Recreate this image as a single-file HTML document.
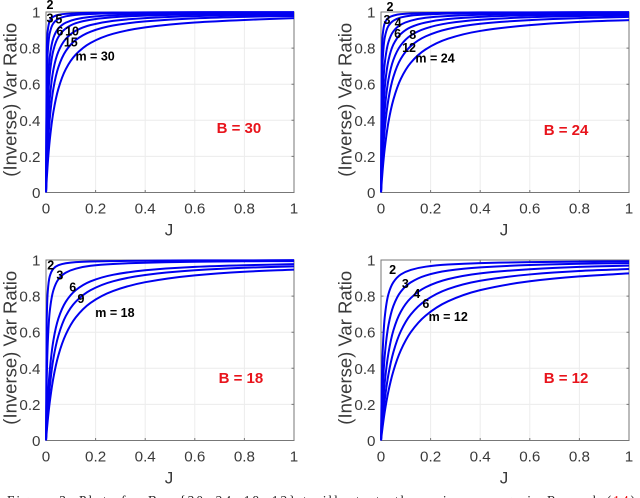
<!DOCTYPE html>
<html>
<head>
<meta charset="utf-8">
<style>
html,body{margin:0;padding:0;background:#fff;}
body{width:640px;height:498px;overflow:hidden;position:relative;}
svg{position:absolute;left:0;top:0;}
text{font-family:"Liberation Sans",sans-serif;}
</style>
</head>
<body>
<svg id="fig" width="640" height="498" viewBox="0 0 640 498">
<text x="7" y="505" font-size="13.4" textLength="628" lengthAdjust="spacing" fill="#222" style="font-family:'Liberation Serif',serif">Figure 3: Plots for B = {30, 24, 18, 12} to illustrate the main message in Remark (<tspan fill="#e00">14</tspan>)</text>
</svg>
<script>
const sampleJ = [0,.003,.007,.015,.03,.05,.08,.12,.18,.27,.4,.6,.8,1];
const xTicks = [0,.2,.4,.6,.8,1];
const yTicks = [0,.2,.4,.6,.8,1];
const tickText = ['0','0.2','0.4','0.6','0.8','1'];

const b30m2  = [0,.789,.897,.949,.974,.984,.990,.993,.996,.997,.998,.999,.999,.999];
const b30m3  = [0,.600,.778,.882,.938,.962,.976,.984,.989,.993,.995,.997,.998,.998];
const b30m5  = [0,.375,.583,.750,.857,.909,.941,.960,.973,.982,.988,.992,.994,.995];
const b30m6  = [0,.273,.467,.652,.789,.862,.909,.938,.957,.971,.980,.987,.990,.992];
const b30m10 = [0,.176,.333,.517,.682,.781,.851,.896,.928,.951,.966,.977,.983,.986];
const b30m15 = [0,.120,.241,.405,.577,.694,.784,.845,.891,.925,.948,.965,.973,.978];
const b30m30 = [0,.075,.159,.288,.448,.575,.684,.764,.829,.879,.915,.942,.956,.966];

const b24m2  = [0,.750,.875,.938,.968,.980,.988,.992,.994,.996,.998,.998,.999,.999];
const b24m3  = [0,.545,.737,.857,.923,.952,.970,.980,.986,.991,.994,.996,.997,.998];
const b24m4  = [0,.333,.538,.714,.833,.893,.930,.952,.968,.978,.985,.990,.993,.994];
const b24m6  = [0,.214,.389,.577,.732,.820,.879,.916,.942,.961,.973,.982,.986,.989];
const b24m8  = [0,.143,.280,.455,.625,.735,.816,.870,.909,.938,.957,.971,.978,.982];
const b24m12 = [0,.097,.200,.349,.517,.641,.741,.811,.865,.906,.935,.955,.966,.973];
const b24m24 = [0,.060,.130,.242,.390,.515,.630,.719,.793,.852,.895,.927,.945,.955];

const b18m2  = [0,.667,.824,.909,.952,.971,.982,.988,.992,.994,.996,.998,.998,.999];
const b18m3  = [0,.333,.538,.714,.833,.893,.930,.952,.968,.978,.985,.990,.993,.994];
const b18m6  = [0,.111,.226,.385,.556,.676,.769,.833,.882,.918,.943,.962,.971,.977];
const b18m9  = [0,.077,.163,.294,.455,.581,.690,.769,.833,.882,.917,.943,.957,.965];
const b18m18 = [0,.051,.111,.211,.349,.472,.588,.682,.763,.828,.877,.915,.935,.947];

const b12m2  = [0,.300,.500,.682,.811,.877,.920,.945,.963,.975,.983,.988,.991,.993];
const b12m3  = [0,.150,.292,.469,.638,.746,.825,.876,.914,.941,.959,.972,.979,.983];
const b12m4  = [0,.086,.179,.319,.484,.610,.714,.789,.849,.894,.926,.949,.962,.969];
const b12m6  = [0,.055,.119,.224,.366,.490,.606,.698,.776,.839,.885,.920,.939,.950];
const b12m12 = [0,.036,.080,.158,.273,.385,.500,.600,.692,.771,.833,.882,.909,.926];

const NS = 'http://www.w3.org/2000/svg';
const fig = document.getElementById('fig');

function mk(tag, attrs, parent, txt){
  const e = document.createElementNS(NS, tag);
  for (const k in attrs) e.setAttribute(k, attrs[k]);
  if (txt !== undefined) e.textContent = txt;
  parent.appendChild(e);
  return e;
}

function curvePath(xs, ys){
  const n = xs.length, d = [], t = new Array(n);
  for (let i = 0; i < n - 1; i++) d.push((ys[i+1]-ys[i])/(xs[i+1]-xs[i]));
  t[0] = d[0]; t[n-1] = d[n-2];
  for (let i = 1; i < n - 1; i++){
    if (d[i-1]*d[i] <= 0) { t[i] = 0; continue; }
    const h0 = xs[i]-xs[i-1], h1 = xs[i+1]-xs[i];
    const w1 = 2*h1+h0, w2 = h1+2*h0;
    t[i] = (w1+w2)/(w1/d[i-1]+w2/d[i]);
  }
  let p = 'M' + xs[0].toFixed(2) + ' ' + ys[0].toFixed(2);
  for (let i = 0; i < n - 1; i++){
    const h = (xs[i+1]-xs[i])/3;
    p += 'C' + (xs[i]+h).toFixed(2) + ' ' + (ys[i]+h*t[i]).toFixed(2) + ' ' +
         (xs[i+1]-h).toFixed(2) + ' ' + (ys[i+1]-h*t[i+1]).toFixed(2) + ' ' +
         xs[i+1].toFixed(2) + ' ' + ys[i+1].toFixed(2);
  }
  return p;
}

function panel(cfg){
  const L = cfg.left, T = cfg.top, W = 248, H = 180.5;
  const sx = v => L + v * W;
  const sy = v => T + H - v * H;
  const g = mk('g', {}, fig);
  
  

  xTicks.forEach((v, i) => {
    if (i > 0 && i < xTicks.length - 1) {
      const gl = mk('line', {x1:sx(v), x2:sx(v), y1:T, y2:T+H, stroke:'#ececec', 'stroke-width':1}, g);
      
      
      const tk = mk('path', {d:`M${sx(v)} ${T+H}v-2.5M${sx(v)} ${T}v2.5`, stroke:'#777', 'stroke-width':1, fill:'none'}, g);
      
      
    }
    const lb = mk('text', {x:sx(v), y:T+H+21, 'font-size':15.2, 'text-anchor':'middle', fill:'#3a3a3a'}, g, tickText[i]);
    
    
  });
  yTicks.forEach((v, i) => {
    if (i > 0 && i < yTicks.length - 1) {
      const gl = mk('line', {x1:L, x2:L+W, y1:sy(v), y2:sy(v), stroke:'#ececec', 'stroke-width':1}, g);
      
      
      const tk = mk('path', {d:`M${L} ${sy(v)}h2.5M${L+W} ${sy(v)}h-2.5`, stroke:'#777', 'stroke-width':1, fill:'none'}, g);
      
      
    }
    const lb = mk('text', {x:L-5.5, y:sy(v)+5.5, 'font-size':15.2, 'text-anchor':'end', fill:'#3a3a3a'}, g, tickText[i]);
    
    
  });

  const box = mk('path', {d:`M${L} ${T}H${L+W}V${T+H}H${L}Z`, fill:'none', stroke:'#777', 'stroke-width':1}, g);
  
  

  const px = sampleJ.map(sx);
  cfg.series.forEach(s => {
    const c = mk('path', {d:curvePath(px, s.values.map(sy)), fill:'none', stroke:'#0000f0', 'stroke-width':2}, g);
    
    
  });

  cfg.labels.forEach(l => {
    const t = mk('text', {x:sx(l[1]), y:sy(l[2]), 'font-size':12.5, 'font-weight':'bold', 'text-anchor':'middle', fill:'#000'}, g, l[0]);
    
    
  });

  const bl = mk('text', {x:sx(cfg.bx), y:sy(cfg.by), 'font-size':15, 'font-weight':'bold', 'text-anchor':'middle', fill:'#e8141c'}, g, 'B = ' + cfg.b);
  
  

  const xt = mk('text', {x:L+W/2-1, y:T+H+43, 'font-size':17, 'text-anchor':'middle', fill:'#3a3a3a'}, g, 'J');
  
  

  const cy = T + H/2 - 2.5;
  const tx = L - 29.5;
  const yt = mk('text', {x:tx, y:cy, 'font-size':18.5, 'text-anchor':'middle', fill:'#3a3a3a', transform:`rotate(-90 ${tx} ${cy})`}, g, '(Inverse) Var Ratio');
  
  
}

panel({left:46, top:12, b:30, bx:.778, by:.33,
  series:[{m:2,values:b30m2},{m:3,values:b30m3},{m:5,values:b30m5},{m:6,values:b30m6},{m:10,values:b30m10},{m:15,values:b30m15},{m:30,values:b30m30}],
  labels:[['2',.016,1.017],['3',.016,.942],['5',.052,.936],['6',.056,.87],['10',.105,.87],['15',.10,.809],['m = 30',.198,.731]]});
panel({left:381, top:12, b:24, bx:.746, by:.318,
  series:[{m:2,values:b24m2},{m:3,values:b24m3},{m:4,values:b24m4},{m:6,values:b24m6},{m:8,values:b24m8},{m:12,values:b24m12},{m:24,values:b24m24}],
  labels:[['2',.036,1.005],['3',.024,.933],['4',.069,.917],['6',.067,.856],['8',.128,.85],['12',.113,.778],['m = 24',.218,.72]]});
panel({left:46, top:260, b:18, bx:.786, by:.319,
  series:[{m:2,values:b18m2},{m:3,values:b18m3},{m:6,values:b18m6},{m:9,values:b18m9},{m:18,values:b18m18}],
  labels:[['2',.019,.947],['3',.056,.892],['6',.108,.825],['9',.141,.762],['m = 18',.278,.683]]});
panel({left:381, top:260, b:12, bx:.746, by:.319,
  series:[{m:2,values:b12m2},{m:3,values:b12m3},{m:4,values:b12m4},{m:6,values:b12m6},{m:12,values:b12m12}],
  labels:[['2',.047,.922],['3',.098,.845],['4',.144,.79],['6',.181,.734],['m = 12',.271,.662]]});
</script>
</body>
</html>
